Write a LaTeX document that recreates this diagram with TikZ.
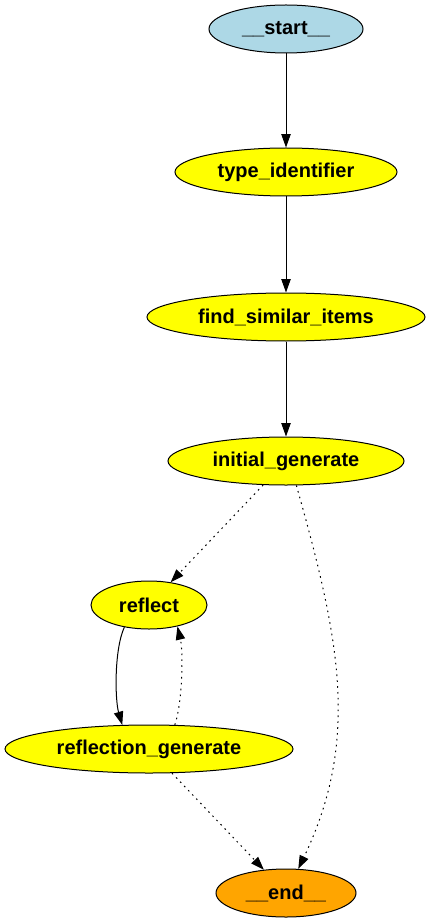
\documentclass[tikz,border=0pt]{standalone}
\usepackage{fontspec}
\setmainfont{Liberation Sans}
\usetikzlibrary{shapes.geometric,arrows.meta}
\definecolor{gvlightblue}{RGB}{173,216,230}
\definecolor{gvyellow}{RGB}{255,255,0}
\definecolor{gvorange}{RGB}{255,165,0}
\begin{document}
\begin{tikzpicture}[x=0.75pt,y=-0.75pt,
  gvnode/.style={ellipse,draw=black,line width=0.75pt,inner sep=0pt,minimum height=36pt,
    font=\fontsize{15pt}{17pt}\selectfont\bfseries},
  gvedge/.style={line width=0.75pt,-{Triangle[length=10pt,width=7pt]}},
  gvdot/.style={gvedge,dash pattern=on 1.2pt off 3.2pt}]
\useasboundingbox (0,0) rectangle (431,923);
\node[gvnode,fill=gvlightblue,minimum width=115.5pt] (st) at (286,29) {\_\_start\_\_};
\node[gvnode,fill=gvyellow,minimum width=166.5pt] (ti) at (286,172) {type\_identifier};
\node[gvnode,fill=gvyellow,minimum width=208.5pt] (fs) at (286,317) {find\_similar\_items};
\node[gvnode,fill=gvyellow,minimum width=177pt] (ig) at (286,461) {initial\_generate};
\node[gvnode,fill=gvyellow,minimum width=87pt] (rf) at (149,605) {reflect};
\node[gvnode,fill=gvyellow,minimum width=216pt] (rg) at (149,749) {reflection\_generate};
\node[gvnode,fill=gvorange,minimum width=105pt] (en) at (286,893) {\_\_end\_\_};
\draw[gvedge] (st) -- (ti);
\draw[gvedge] (ti) -- (fs);
\draw[gvedge] (fs) -- (ig);
\draw[gvdot] (ig) -- (rf);
\draw[gvdot] (ig.-67) .. controls (340,640) and (360,740) .. (en.63);
\draw[gvedge] (rf.222) .. controls (114,650) and (115,700) .. (rg.138);
\draw[gvdot] (rg.43) .. controls (183,700) and (183,650) .. (rf.-37);
\draw[gvdot] (rg) -- (en);
\end{tikzpicture}
\end{document}
